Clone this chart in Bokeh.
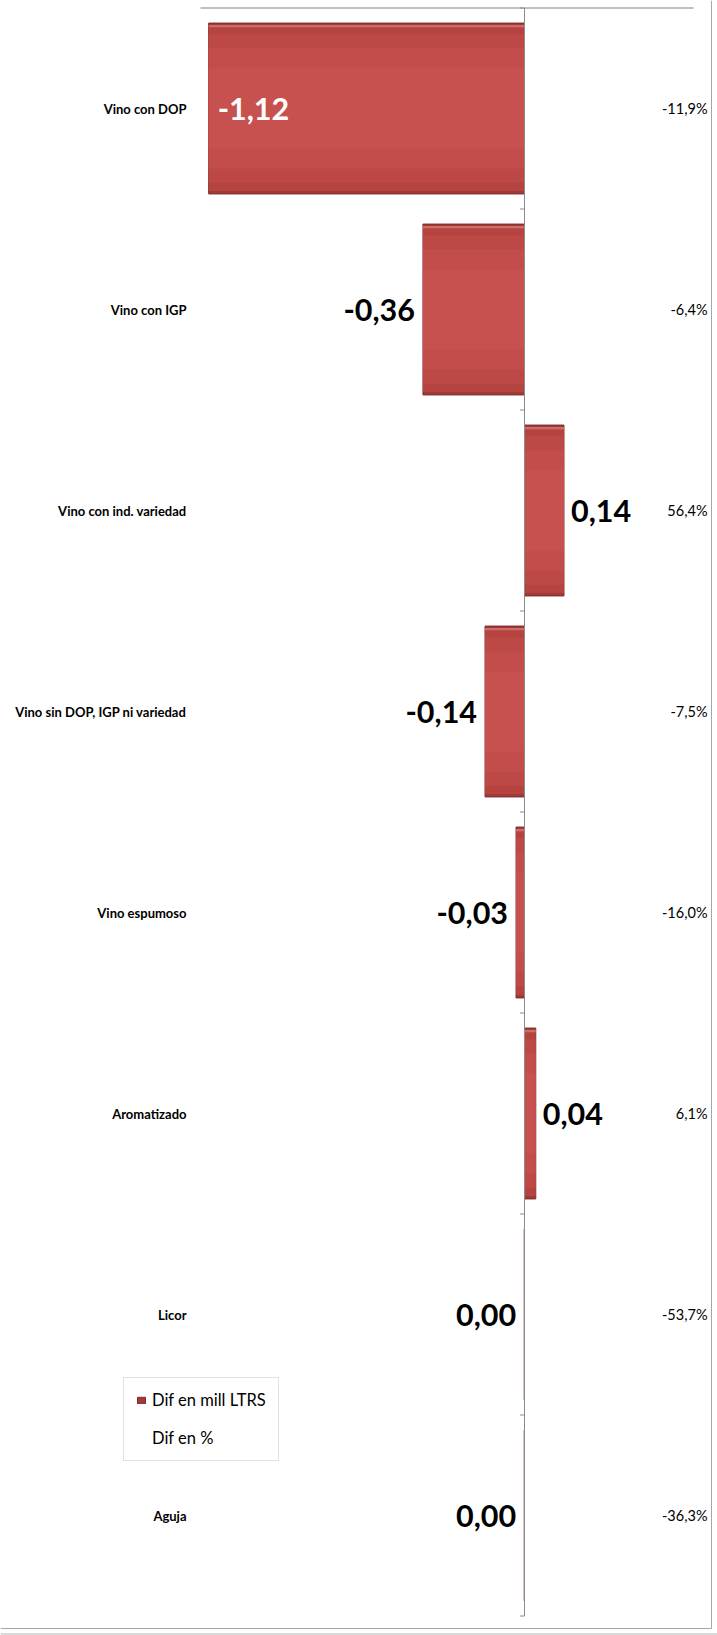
from bokeh.plotting import figure
from bokeh.models import ColumnDataSource, Range1d, Legend, LegendItem
from bokeh.core.properties import value
from bokeh.embed import file_html
from bokeh.resources import INLINE

# ---------------- data ----------------
categories = [
    "Vino con DOP",
    "Vino con IGP",
    "Vino con ind. variedad",
    "Vino sin DOP, IGP ni variedad",
    "Vino espumoso",
    "Aromatizado",
    "Licor",
    "Aguja",
]
dif_mill_ltrs = [-1.12, -0.36, 0.14, -0.14, -0.03, 0.04, -0.001, -0.001]
dif_pct = [-11.9, -6.4, 56.4, -7.5, -16.0, 6.1, -53.7, -36.3]
series_names = ["Dif en mill LTRS", "Dif en %"]

# ---------------- geometry helpers (picture pixels -> data) ----------------
W, H = 717, 1635
ZERO_PX = 524           # x of value 0
SCALE = 282.0           # px per million litres
BAND = 201.0            # px per category
TOP_PX = 7.5            # y of top of first band


def dx(px):
    return (px - ZERO_PX) / SCALE


def dy(py):
    return (py - TOP_PX) / BAND - 0.5


FONT = "Lato"

p = figure(
    width=W, height=H,
    x_range=Range1d(dx(0), dx(W)),
    y_range=Range1d(dy(H), dy(0)),
    output_backend="svg", toolbar_location=None,
    min_border=0, min_border_left=0, min_border_right=0,
    min_border_top=0, min_border_bottom=0,
    outline_line_color=None, background_fill_color="white",
    border_fill_color="white",
)
p.axis.visible = False
p.grid.visible = False

n = len(categories)
ys = list(range(n))

# ---------------- bars (layered for a bevelled look) ----------------
src = ColumnDataSource(dict(y=ys, right=dif_mill_ltrs, left=[0] * n))
bars = p.hbar(y="y", left="left", right="right", height=0.85, source=src,
              fill_color="#A33A37", line_color="#7A2C2A", line_width=1)
for h, c in [(0.82, "#B54441"), (0.74, "#BC4946"), (0.6, "#C24D4A"), (0.4, "#C6514E")]:
    p.hbar(y="y", left="left", right="right", height=h, source=src,
           fill_color=c, line_color=None)
# light top edge
p.hbar(y=[y - 0.41 for y in ys], left=[0] * n, right=dif_mill_ltrs, height=0.012,
       fill_color="#D47976", fill_alpha=0.8, line_color=None)

# ---------------- axis lines ----------------
p.segment(x0=[dx(200)], y0=[-0.5], x1=[dx(693)], y1=[-0.5],
          line_color="#ABABAB", line_width=1.5)
bounds = [i - 0.5 for i in range(n + 1)]
p.segment(x0=[0], y0=[-0.5], x1=[0], y1=[n - 0.5], line_color="#8C8C8C", line_width=1)
p.segment(x0=[0] * len(bounds), y0=bounds, x1=[-4.5 / SCALE] * len(bounds), y1=bounds,
          line_color="#8C8C8C", line_width=1)
# chart border
p.segment(x0=[dx(711)], y0=[dy(0)], x1=[dx(711)], y1=[dy(1628)],
          line_color="#A6A6A6", line_width=1)
p.segment(x0=[dx(0)], y0=[dy(1628)], x1=[dx(711)], y1=[dy(1628)],
          line_color="#A6A6A6", line_width=1)
p.segment(x0=[dx(0)], y0=[dy(1633.5)], x1=[dx(717)], y1=[dy(1633.5)],
          line_color="#B4B4B4", line_width=1)


# ---------------- value labels ----------------
def fmt2(v):
    r = round(v, 2)
    if r == 0:
        r = 0.0
    return f"{r:.2f}".replace(".", ",")


INSIDE_LIMIT = -1.0
lab_text, lab_align, lab_off, lab_color = [], [], [], []
for v in dif_mill_ltrs:
    lab_text.append(fmt2(v))
    if v < INSIDE_LIMIT:
        lab_align.append("left"); lab_off.append(9); lab_color.append("white")
    elif v < 0:
        lab_align.append("right"); lab_off.append(-8); lab_color.append("black")
    else:
        lab_align.append("left"); lab_off.append(7); lab_color.append("black")

lsrc = ColumnDataSource(dict(x=dif_mill_ltrs, y=ys, text=lab_text, align=lab_align,
                             off=lab_off, color=lab_color))
p.text(x="x", y="y", text="text", source=lsrc, text_align="align", x_offset="off",
       text_color="color", text_baseline="middle", text_font=value(FONT),
       text_font_style="bold", text_font_size="30.5px")

# ---------------- category labels ----------------
p.text(x=[dx(186)] * n, y=ys, text=categories, text_align="right", text_baseline="middle",
       text_font=value(FONT), text_font_style="bold", text_font_size="13px",
       text_color="black")

# ---------------- percent labels ----------------
pct_text = [f"{v:.1f}%".replace(".", ",") for v in dif_pct]
p.text(x=[dx(707)] * n, y=ys, text=pct_text, text_align="right",
       text_baseline="middle", text_font=value(FONT), text_font_size="14.5px",
       text_color="black")

# ---------------- legend ----------------
dummy = p.scatter(x=[0], y=[0], size=1, fill_alpha=0, line_alpha=0)
legend = Legend(
    items=[LegendItem(label=series_names[0], renderers=[bars]),
           LegendItem(label=series_names[1], renderers=[dummy])],
    location=(123, 174),
    glyph_width=10, glyph_height=8, label_standoff=6,
    padding=12, spacing=18, label_height=18,
    label_text_font=FONT, label_text_font_size="16.5px", label_text_color="black",
    border_line_color="#C4C4C4", border_line_width=1,
    background_fill_color="white", background_fill_alpha=1,
    margin=0,
)
p.add_layout(legend, "center")

open("out.html", "w").write(file_html(p, INLINE))
